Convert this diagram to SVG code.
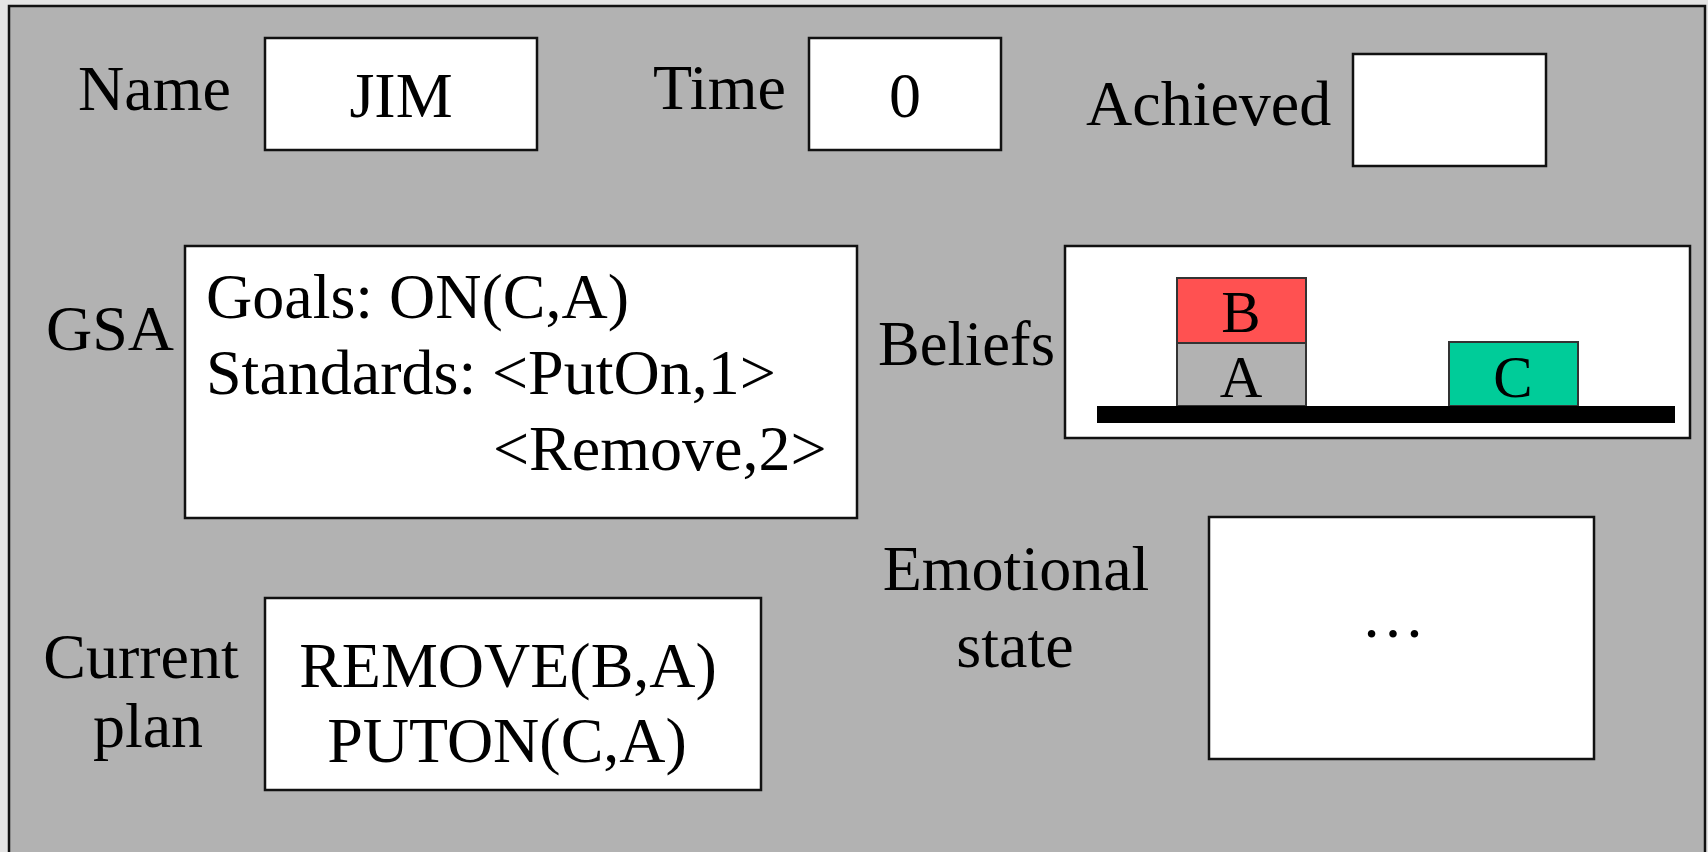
<svg xmlns="http://www.w3.org/2000/svg" width="1708" height="852" viewBox="0 0 1708 852">
<style>
text{font-family:"Liberation Serif","Times New Roman",serif;font-size:64px;fill:#000}
.c{text-anchor:middle}
.box{fill:#fff;stroke:#111;stroke-width:2.5}
.blk{stroke:#333;stroke-width:2}
.bl{font-size:59px}
</style>
<rect x="0" y="0" width="1708" height="852" fill="#e4e4e4"/>
<rect id="panel" x="9" y="6" width="1696" height="860" fill="#b2b2b2" stroke="#111" stroke-width="2.5"/>
<g id="name">
<text x="78" y="110">Name</text>
<rect class="box" x="265" y="38" width="272" height="112"/>
<text class="c" x="401" y="117">JIM</text>
</g>
<g id="time">
<text x="653" y="109">Time</text>
<rect class="box" x="809" y="38" width="192" height="112"/>
<text class="c" x="905" y="117">0</text>
</g>
<g id="achieved">
<text x="1086" y="125">Achieved</text>
<rect class="box" x="1353" y="54" width="193" height="112"/>
</g>
<g id="gsa">
<text x="46" y="350">GSA</text>
<rect class="box" x="185" y="246" width="672" height="272"/>
<text x="206" y="318">Goals: ON(C,A)</text>
<text x="206" y="394">Standards:</text>
<text x="492" y="394">&lt;PutOn,1&gt;</text>
<text x="493" y="470">&lt;Remove,2&gt;</text>
</g>
<g id="beliefs">
<text x="878" y="365" textLength="177" lengthAdjust="spacingAndGlyphs">Beliefs</text>
<rect class="box" x="1065" y="246" width="625" height="192"/>
<rect class="blk" x="1177" y="278" width="129" height="65" fill="#ff5151"/>
<text class="c bl" x="1241" y="332">B</text>
<rect class="blk" x="1177" y="343" width="129" height="63" fill="#b2b2b2"/>
<text class="c bl" x="1241" y="397">A</text>
<rect class="blk" x="1449" y="342" width="129" height="64" fill="#00cc99"/>
<text class="c bl" x="1513" y="397">C</text>
<rect x="1097" y="406" width="578" height="17" fill="#000"/>
</g>
<g id="emotional">
<text class="c" x="1016" y="590">Emotional</text>
<text class="c" x="1015" y="667">state</text>
<rect class="box" x="1209" y="517" width="385" height="242"/>
<text class="c" x="1393" y="637">…</text>
</g>
<g id="plan">
<text class="c" x="141" y="678">Current</text>
<text class="c" x="148" y="747">plan</text>
<rect class="box" x="265" y="598" width="496" height="192"/>
<text class="c" x="508" y="687">REMOVE(B,A)</text>
<text class="c" x="507" y="762">PUTON(C,A)</text>
</g>
</svg>
